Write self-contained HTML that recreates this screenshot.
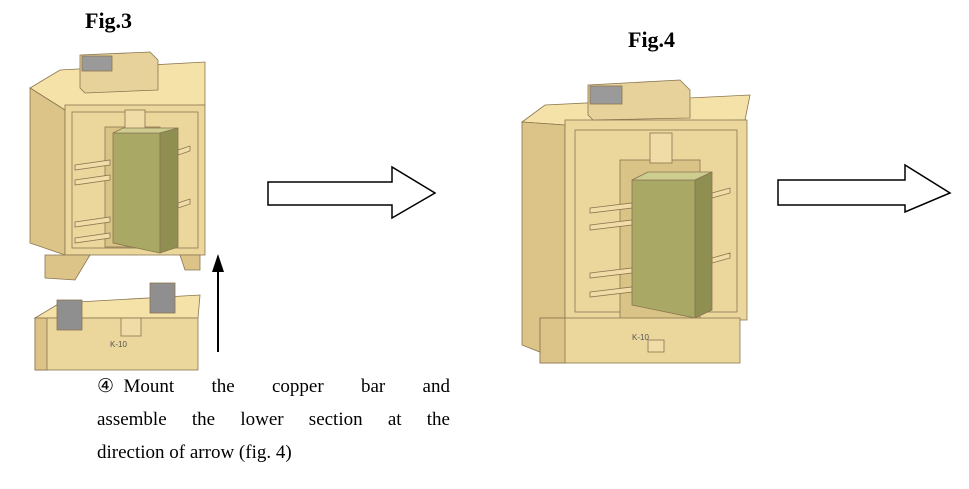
<!DOCTYPE html>
<html><head><meta charset="utf-8"><style>
body{margin:0;width:969px;height:489px;background:#fff;overflow:hidden;position:relative;font-family:"Liberation Serif",serif}
.t{position:absolute;font-weight:bold;font-size:22px}
.p{position:absolute;left:97px;width:353px;font-size:19px;line-height:33px;display:flex;justify-content:space-between;white-space:nowrap}
</style></head><body>
<div class="t" style="left:85px;top:8px">Fig.3</div>
<div class="t" style="left:628px;top:27px">Fig.4</div>
<svg width="969" height="489" style="position:absolute;left:0;top:0" stroke="#8a7550" stroke-width="0.8">
<polygon points="30,88 60,70 205,62 205,105 65,110" fill="#f4e2a8"/>
<polygon points="30,88 65,110 65,255 30,243" fill="#dcc489"/>
<rect x="65" y="105" width="140" height="150" fill="#ebd69c"/>
<rect x="72" y="112" width="126" height="136" fill="none"/>
<rect x="105" y="127" width="55" height="120" fill="#d9c386"/>
<polygon points="80,55 150,52 158,60 158,90 85,93 80,88" fill="#e6d29a"/>
<rect x="82" y="56" width="30" height="15" fill="#9a9a9a"/>
<rect x="125" y="110" width="20" height="20" fill="#f0dca6"/>
<g fill="#f0dca6"><polygon points="75,165 110,160 110,165 75,170"/><polygon points="75,180 110,175 110,180 75,185"/><polygon points="75,222 110,217 110,222 75,227"/><polygon points="75,238 110,233 110,238 75,243"/><polygon points="178,150 190,146 190,151 178,155"/><polygon points="178,203 190,199 190,204 178,208"/></g>
<polygon points="113,133 160,133 160,253 113,243" fill="#a9a865"/>
<polygon points="113,133 123,128 178,128 160,133" fill="#cdcd90"/>
<polygon points="160,133 178,128 178,247 160,253" fill="#8f8f52"/>
<polygon points="45,255 65,255 90,255 75,280 45,278" fill="#dcc489"/>
<polygon points="180,255 200,255 200,270 185,270" fill="#dcc489"/>
<polygon points="35,318 60,303 200,295 198,318" fill="#f4e2a8"/>
<rect x="35" y="318" width="163" height="52" fill="#ebd69c"/>
<rect x="35" y="318" width="12" height="52" fill="#dcc489"/>
<rect x="57" y="300" width="25" height="30" fill="#8f8f8f"/>
<rect x="150" y="283" width="25" height="30" fill="#8f8f8f"/>
<rect x="121" y="318" width="20" height="18" fill="#f0dca6"/>
<text x="110" y="347" font-size="8" fill="#555" stroke="none" font-family="Liberation Sans">K-10</text>
<line x1="218" y1="352" x2="218" y2="270" stroke="#000" stroke-width="2"/>
<polygon points="212,272 224,272 218,254" fill="#000" stroke="none"/>
<polygon points="268,182 392,182 392,167 435,193 392,218 392,205 268,205" fill="#fff" stroke="#000" stroke-width="1.5"/>
<polygon points="778,180 905,180 905,165 950,193 905,212 905,205 778,205" fill="#fff" stroke="#000" stroke-width="1.5"/>
<polygon points="522,122 545,105 750,95 745,120 565,125" fill="#f4e2a8"/>
<polygon points="522,122 565,125 565,362 522,345" fill="#dcc489"/>
<rect x="565" y="120" width="182" height="200" fill="#ebd69c"/>
<rect x="575" y="130" width="162" height="182" fill="none"/>
<rect x="620" y="160" width="80" height="160" fill="#d9c386"/>
<polygon points="588,85 680,80 690,90 690,118 593,120 588,115" fill="#e6d29a"/>
<rect x="590" y="86" width="32" height="18" fill="#9a9a9a"/>
<rect x="650" y="133" width="22" height="30" fill="#f0dca6"/>
<g fill="#f0dca6"><polygon points="590,208 632,203 632,208 590,213"/><polygon points="590,225 632,220 632,225 590,230"/><polygon points="590,273 632,268 632,273 590,278"/><polygon points="590,292 632,287 632,292 590,297"/><polygon points="712,193 730,188 730,193 712,198"/><polygon points="712,258 730,253 730,258 712,263"/></g>
<polygon points="632,180 695,180 695,318 632,305" fill="#a9a865"/>
<polygon points="632,180 648,172 712,172 695,180" fill="#cdcd90"/>
<polygon points="695,180 712,172 712,310 695,318" fill="#8f8f52"/>
<rect x="540" y="318" width="200" height="45" fill="#ebd69c"/>
<rect x="540" y="318" width="25" height="45" fill="#dcc489"/>
<rect x="648" y="340" width="16" height="12" fill="#f0dca6"/>
<text x="632" y="340" font-size="8" fill="#555" stroke="none" font-family="Liberation Sans">K-10</text>
</svg>
<div class="p" style="top:370px"><span>④&nbsp;&nbsp;Mount</span><span>the</span><span>copper</span><span>bar</span><span>and</span></div>
<div class="p" style="top:403px"><span>assemble</span><span>the</span><span>lower</span><span>section</span><span>at</span><span>the</span></div>
<div class="p" style="top:436px;display:block">direction of arrow (fig. 4)</div>
</body></html>
